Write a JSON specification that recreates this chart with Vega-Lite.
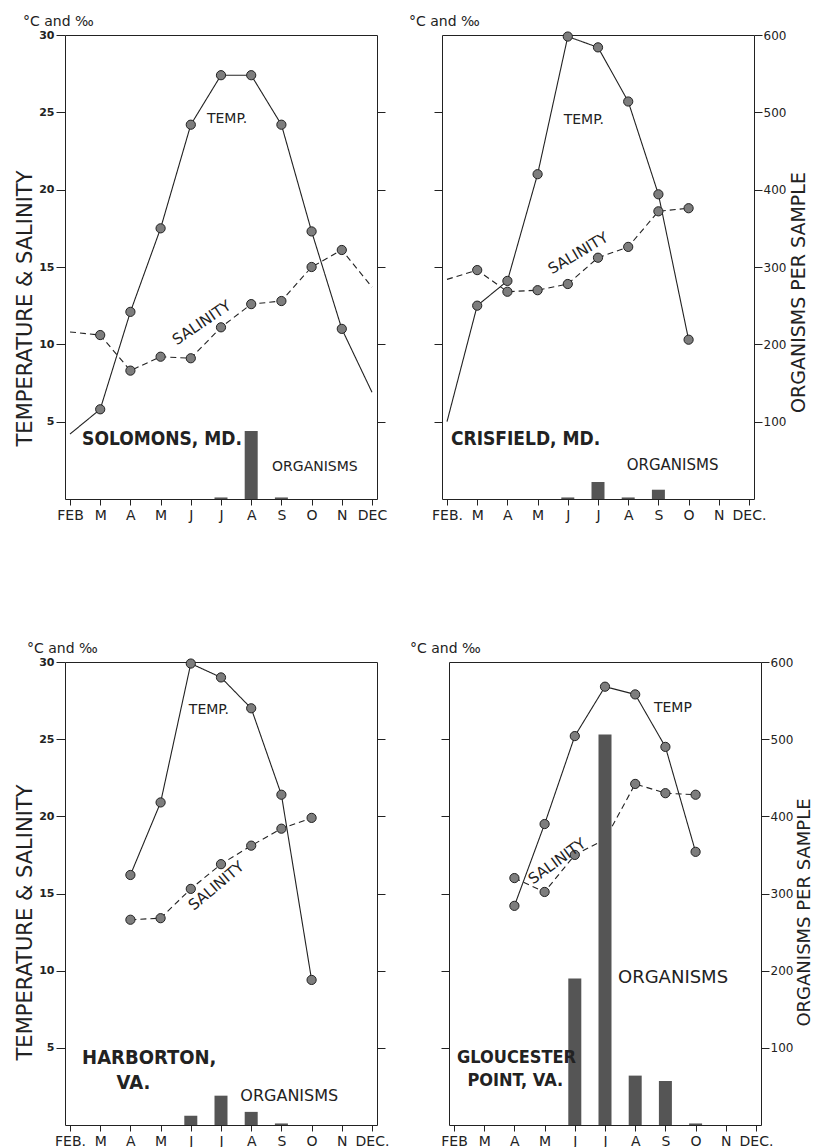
{
  "$schema": "https://vega.github.io/schema/vega-lite/v6.json",
  "background": "white",
  "padding": {"left": 14, "top": 14, "right": 2, "bottom": 3},
  "spacing": 118,
  "config": {
    "view": {"stroke": "#222", "strokeWidth": 1},
    "font": "DejaVu Sans",
    "axis": {"grid": false, "domain": false, "tickColor": "#222", "labelColor": "#222", "titleColor": "#222", "labelFont": "DejaVu Sans", "titleFont": "DejaVu Sans", "titleFontWeight": "normal"},
    "axisX": {"labelOverlap": false, "labelFlush": false, "tickCount": 10, "tickSize": 6, "labelFontSize": 14, "labelPadding": 3},
    "title": {"font": "DejaVu Sans", "fontWeight": "normal", "color": "#222"},
    "text": {"color": "#222", "baseline": "middle"}
  },
  "datasets": {
    "obs": [
      {"station": "Solomons", "series": "Temperature", "month": 2, "value": 4.2},
      {"station": "Solomons", "series": "Temperature", "month": 3, "value": 5.8},
      {"station": "Solomons", "series": "Temperature", "month": 4, "value": 12.1},
      {"station": "Solomons", "series": "Temperature", "month": 5, "value": 17.5},
      {"station": "Solomons", "series": "Temperature", "month": 6, "value": 24.2},
      {"station": "Solomons", "series": "Temperature", "month": 7, "value": 27.4},
      {"station": "Solomons", "series": "Temperature", "month": 8, "value": 27.4},
      {"station": "Solomons", "series": "Temperature", "month": 9, "value": 24.2},
      {"station": "Solomons", "series": "Temperature", "month": 10, "value": 17.3},
      {"station": "Solomons", "series": "Temperature", "month": 11, "value": 11.0},
      {"station": "Solomons", "series": "Temperature", "month": 12, "value": 6.9},
      {"station": "Solomons", "series": "Salinity", "month": 2, "value": 10.8},
      {"station": "Solomons", "series": "Salinity", "month": 3, "value": 10.6},
      {"station": "Solomons", "series": "Salinity", "month": 4, "value": 8.3},
      {"station": "Solomons", "series": "Salinity", "month": 5, "value": 9.2},
      {"station": "Solomons", "series": "Salinity", "month": 6, "value": 9.1},
      {"station": "Solomons", "series": "Salinity", "month": 7, "value": 11.1},
      {"station": "Solomons", "series": "Salinity", "month": 8, "value": 12.6},
      {"station": "Solomons", "series": "Salinity", "month": 9, "value": 12.8},
      {"station": "Solomons", "series": "Salinity", "month": 10, "value": 15.0},
      {"station": "Solomons", "series": "Salinity", "month": 11, "value": 16.1},
      {"station": "Solomons", "series": "Salinity", "month": 12, "value": 13.7},
      {"station": "Crisfield", "series": "Temperature", "month": 2, "value": 5.0},
      {"station": "Crisfield", "series": "Temperature", "month": 3, "value": 12.5},
      {"station": "Crisfield", "series": "Temperature", "month": 4, "value": 14.1},
      {"station": "Crisfield", "series": "Temperature", "month": 5, "value": 21.0},
      {"station": "Crisfield", "series": "Temperature", "month": 6, "value": 29.9},
      {"station": "Crisfield", "series": "Temperature", "month": 7, "value": 29.2},
      {"station": "Crisfield", "series": "Temperature", "month": 8, "value": 25.7},
      {"station": "Crisfield", "series": "Temperature", "month": 9, "value": 19.7},
      {"station": "Crisfield", "series": "Temperature", "month": 10, "value": 10.3},
      {"station": "Crisfield", "series": "Salinity", "month": 2, "value": 14.2},
      {"station": "Crisfield", "series": "Salinity", "month": 3, "value": 14.8},
      {"station": "Crisfield", "series": "Salinity", "month": 4, "value": 13.4},
      {"station": "Crisfield", "series": "Salinity", "month": 5, "value": 13.5},
      {"station": "Crisfield", "series": "Salinity", "month": 6, "value": 13.9},
      {"station": "Crisfield", "series": "Salinity", "month": 7, "value": 15.6},
      {"station": "Crisfield", "series": "Salinity", "month": 8, "value": 16.3},
      {"station": "Crisfield", "series": "Salinity", "month": 9, "value": 18.6},
      {"station": "Crisfield", "series": "Salinity", "month": 10, "value": 18.8},
      {"station": "Harborton", "series": "Temperature", "month": 4, "value": 16.2},
      {"station": "Harborton", "series": "Temperature", "month": 5, "value": 20.9},
      {"station": "Harborton", "series": "Temperature", "month": 6, "value": 29.9},
      {"station": "Harborton", "series": "Temperature", "month": 7, "value": 29.0},
      {"station": "Harborton", "series": "Temperature", "month": 8, "value": 27.0},
      {"station": "Harborton", "series": "Temperature", "month": 9, "value": 21.4},
      {"station": "Harborton", "series": "Temperature", "month": 10, "value": 9.4},
      {"station": "Harborton", "series": "Salinity", "month": 4, "value": 13.3},
      {"station": "Harborton", "series": "Salinity", "month": 5, "value": 13.4},
      {"station": "Harborton", "series": "Salinity", "month": 6, "value": 15.3},
      {"station": "Harborton", "series": "Salinity", "month": 7, "value": 16.9},
      {"station": "Harborton", "series": "Salinity", "month": 8, "value": 18.1},
      {"station": "Harborton", "series": "Salinity", "month": 9, "value": 19.2},
      {"station": "Harborton", "series": "Salinity", "month": 10, "value": 19.9},
      {"station": "Gloucester", "series": "Temperature", "month": 4, "value": 14.2},
      {"station": "Gloucester", "series": "Temperature", "month": 5, "value": 19.5},
      {"station": "Gloucester", "series": "Temperature", "month": 6, "value": 25.2},
      {"station": "Gloucester", "series": "Temperature", "month": 7, "value": 28.4},
      {"station": "Gloucester", "series": "Temperature", "month": 8, "value": 27.9},
      {"station": "Gloucester", "series": "Temperature", "month": 9, "value": 24.5},
      {"station": "Gloucester", "series": "Temperature", "month": 10, "value": 17.7},
      {"station": "Gloucester", "series": "Salinity", "month": 4, "value": 16.0},
      {"station": "Gloucester", "series": "Salinity", "month": 5, "value": 15.1},
      {"station": "Gloucester", "series": "Salinity", "month": 6, "value": 17.5},
      {"station": "Gloucester", "series": "Salinity", "month": 7, "value": 18.5},
      {"station": "Gloucester", "series": "Salinity", "month": 8, "value": 22.1},
      {"station": "Gloucester", "series": "Salinity", "month": 9, "value": 21.5},
      {"station": "Gloucester", "series": "Salinity", "month": 10, "value": 21.4}
    ],
    "org": [
      {"station": "Solomons", "month": 7, "organisms": 2},
      {"station": "Solomons", "month": 8, "organisms": 88},
      {"station": "Solomons", "month": 9, "organisms": 2},
      {"station": "Crisfield", "month": 6, "organisms": 2},
      {"station": "Crisfield", "month": 7, "organisms": 22},
      {"station": "Crisfield", "month": 8, "organisms": 2},
      {"station": "Crisfield", "month": 9, "organisms": 12},
      {"station": "Harborton", "month": 6, "organisms": 12},
      {"station": "Harborton", "month": 7, "organisms": 38},
      {"station": "Harborton", "month": 8, "organisms": 17},
      {"station": "Harborton", "month": 9, "organisms": 2},
      {"station": "Gloucester", "month": 6, "organisms": 190},
      {"station": "Gloucester", "month": 7, "organisms": 506},
      {"station": "Gloucester", "month": 8, "organisms": 64},
      {"station": "Gloucester", "month": 9, "organisms": 57},
      {"station": "Gloucester", "month": 10, "organisms": 2}
    ]
  },
  "vconcat": [
    {
      "bounds": "flush",
      "spacing": 65,
      "hconcat": [
        {
          "width": 312, "height": 464,
          "title": {"text": "°C and ‰", "anchor": "start", "frame": "group", "dx": -42, "offset": 0, "fontSize": 14},
          "layer": [
            {"data": {"name": "obs"}, "transform": [{"filter": "datum.station == 'Solomons'"}],
             "mark": {"type": "line", "stroke": "#222", "strokeWidth": 1.1},
             "encoding": {
               "x": {"field": "month", "type": "quantitative", "title": null, "scale": {"domain": [2, 12], "nice": false, "zero": false},
                 "axis": {"labelExpr": "['FEB','M','A','M','J','J','A','S','O','N','DEC'][datum.value - 2]"}},
               "y": {"field": "value", "type": "quantitative", "scale": {"domain": [0, 30], "nice": false, "zero": true},
                 "axis": {"orient": "left", "values": [5,10,15,20,25,30], "title": "TEMPERATURE & SALINITY", "titleFontSize": 21, "titlePadding": 3, "titleY": 273, "labelFontSize": 11, "labelFontWeight": "bold", "tickSize": 9, "labelPadding": 2}},
               "strokeDash": {"field": "series", "type": "nominal", "scale": {"domain": ["Temperature", "Salinity"], "range": [[1, 0], [6, 4]]}, "legend": null}}},
            {"data": {"name": "obs"}, "transform": [{"filter": "datum.station == 'Solomons' && datum.month > 2 && datum.month < 12"}],
             "mark": {"type": "point", "filled": true, "fill": "#7d7d7d", "stroke": "#222", "strokeWidth": 1, "size": 85, "opacity": 1},
             "encoding": {
               "x": {"field": "month", "type": "quantitative", "title": null, "scale": {"domain": [2, 12], "nice": false, "zero": false},
                 "axis": {"labelExpr": "['FEB','M','A','M','J','J','A','S','O','N','DEC'][datum.value - 2]"}},
               "y": {"field": "value", "type": "quantitative", "scale": {"domain": [0, 30], "nice": false, "zero": true}, "axis": null}}},
            {"data": {"name": "org"}, "transform": [{"filter": "datum.station == 'Solomons'"}],
             "mark": {"type": "bar", "width": 13, "color": "#555"},
             "encoding": {
               "x": {"field": "month", "type": "quantitative", "title": null, "scale": {"domain": [2, 12], "nice": false, "zero": false},
                 "axis": {"labelExpr": "['FEB','M','A','M','J','J','A','S','O','N','DEC'][datum.value - 2]"}},
               "y": {"field": "organisms", "type": "quantitative", "scale": {"domain": [0, 600], "nice": false},
                 "axis": {"orient": "right", "values": [100,200,300,400,500], "labels": false, "title": null, "tickSize": 8}}}},
            {"data": {"values": [{}]}, "mark": {"type": "text", "text": "TEMP.", "fontSize": 14, "align": "center"},
             "encoding": {"x": {"datum": 7.2, "type": "quantitative"}, "y": {"datum": 24.6, "type": "quantitative", "scale": {"domain": [0, 30], "nice": false}, "axis": null}}},
            {"data": {"values": [{}]}, "mark": {"type": "text", "text": "SALINITY", "fontSize": 15, "angle": -34, "align": "center"},
             "encoding": {"x": {"datum": 6.36, "type": "quantitative"}, "y": {"datum": 11.4, "type": "quantitative", "scale": {"domain": [0, 30], "nice": false}, "axis": null}}},
            {"data": {"values": [{}]}, "mark": {"type": "text", "text": "SOLOMONS, MD.", "font": "Liberation Sans Narrow, DejaVu Sans Condensed, DejaVu Sans", "fontWeight": "bold", "fontSize": 19, "align": "left"},
             "encoding": {"x": {"datum": 2.4, "type": "quantitative"}, "y": {"datum": 3.9, "type": "quantitative", "scale": {"domain": [0, 30], "nice": false}, "axis": null}}},
            {"data": {"values": [{}]}, "mark": {"type": "text", "text": "ORGANISMS", "fontSize": 14, "align": "left"},
             "encoding": {"x": {"datum": 8.69, "type": "quantitative"}, "y": {"datum": 2.1, "type": "quantitative", "scale": {"domain": [0, 30], "nice": false}, "axis": null}}}
          ],
          "resolve": {"scale": {"y": "independent"}, "axis": {"y": "independent"}}
        },
        {
          "width": 312, "height": 464,
          "title": {"text": "°C and ‰", "anchor": "start", "frame": "group", "dx": -33, "offset": 0, "fontSize": 14},
          "layer": [
            {"data": {"name": "obs"}, "transform": [{"filter": "datum.station == 'Crisfield'"}],
             "mark": {"type": "line", "stroke": "#222", "strokeWidth": 1.1},
             "encoding": {
               "x": {"field": "month", "type": "quantitative", "title": null, "scale": {"domain": [2, 12], "nice": false, "zero": false},
                 "axis": {"labelExpr": "['FEB.','M','A','M','J','J','A','S','O','N','DEC.'][datum.value - 2]"}},
               "y": {"field": "value", "type": "quantitative", "scale": {"domain": [0, 30], "nice": false, "zero": true},
                 "axis": {"orient": "left", "values": [5,10,15,20,25], "labels": false, "title": null, "tickSize": 8}},
               "strokeDash": {"field": "series", "type": "nominal", "scale": {"domain": ["Temperature", "Salinity"], "range": [[1, 0], [6, 4]]}, "legend": null}}},
            {"data": {"name": "obs"}, "transform": [{"filter": "datum.station == 'Crisfield' && datum.month > 2 && datum.month < 12"}],
             "mark": {"type": "point", "filled": true, "fill": "#7d7d7d", "stroke": "#222", "strokeWidth": 1, "size": 85, "opacity": 1},
             "encoding": {
               "x": {"field": "month", "type": "quantitative", "title": null, "scale": {"domain": [2, 12], "nice": false, "zero": false},
                 "axis": {"labelExpr": "['FEB.','M','A','M','J','J','A','S','O','N','DEC.'][datum.value - 2]"}},
               "y": {"field": "value", "type": "quantitative", "scale": {"domain": [0, 30], "nice": false, "zero": true}, "axis": null}}},
            {"data": {"name": "org"}, "transform": [{"filter": "datum.station == 'Crisfield'"}],
             "mark": {"type": "bar", "width": 13, "color": "#555"},
             "encoding": {
               "x": {"field": "month", "type": "quantitative", "title": null, "scale": {"domain": [2, 12], "nice": false, "zero": false},
                 "axis": {"labelExpr": "['FEB.','M','A','M','J','J','A','S','O','N','DEC.'][datum.value - 2]"}},
               "y": {"field": "organisms", "type": "quantitative", "scale": {"domain": [0, 600], "nice": false},
                 "axis": {"orient": "right", "values": [100,200,300,400,500,600], "title": "ORGANISMS PER SAMPLE", "titleAngle": 270, "titleBaseline": "top", "titleFontSize": 19, "titlePadding": 4, "titleY": 257, "labelFontSize": 12, "tickSize": 8, "labelPadding": 1}}}},
            {"data": {"values": [{}]}, "mark": {"type": "text", "text": "TEMP.", "fontSize": 14, "align": "center"},
             "encoding": {"x": {"datum": 6.53, "type": "quantitative"}, "y": {"datum": 24.5, "type": "quantitative", "scale": {"domain": [0, 30], "nice": false}, "axis": null}}},
            {"data": {"values": [{}]}, "mark": {"type": "text", "text": "SALINITY", "fontSize": 15, "angle": -31, "align": "center"},
             "encoding": {"x": {"datum": 6.34, "type": "quantitative"}, "y": {"datum": 15.9, "type": "quantitative", "scale": {"domain": [0, 30], "nice": false}, "axis": null}}},
            {"data": {"values": [{}]}, "mark": {"type": "text", "text": "CRISFIELD, MD.", "font": "Liberation Sans Narrow, DejaVu Sans Condensed, DejaVu Sans", "fontWeight": "bold", "fontSize": 19, "align": "left"},
             "encoding": {"x": {"datum": 2.13, "type": "quantitative"}, "y": {"datum": 3.9, "type": "quantitative", "scale": {"domain": [0, 30], "nice": false}, "axis": null}}},
            {"data": {"values": [{}]}, "mark": {"type": "text", "text": "ORGANISMS", "fontSize": 15, "align": "left"},
             "encoding": {"x": {"datum": 7.95, "type": "quantitative"}, "y": {"datum": 2.2, "type": "quantitative", "scale": {"domain": [0, 30], "nice": false}, "axis": null}}}
          ],
          "resolve": {"scale": {"y": "independent"}, "axis": {"y": "independent"}}
        }
      ]
    },
    {
      "bounds": "flush",
      "spacing": 72,
      "hconcat": [
        {
          "width": 312, "height": 463,
          "title": {"text": "°C and ‰", "anchor": "start", "frame": "group", "dx": -38, "offset": 0, "fontSize": 14},
          "layer": [
            {"data": {"name": "obs"}, "transform": [{"filter": "datum.station == 'Harborton'"}],
             "mark": {"type": "line", "stroke": "#222", "strokeWidth": 1.1},
             "encoding": {
               "x": {"field": "month", "type": "quantitative", "title": null, "scale": {"domain": [2, 12], "nice": false, "zero": false},
                 "axis": {"labelExpr": "['FEB.','M','A','M','J','J','A','S','O','N','DEC.'][datum.value - 2]"}},
               "y": {"field": "value", "type": "quantitative", "scale": {"domain": [0, 30], "nice": false, "zero": true},
                 "axis": {"orient": "left", "values": [5,10,15,20,25,30], "title": "TEMPERATURE & SALINITY", "titleFontSize": 21, "titlePadding": 3, "titleY": 260, "labelFontSize": 11, "labelFontWeight": "bold", "tickSize": 9, "labelPadding": 2}},
               "strokeDash": {"field": "series", "type": "nominal", "scale": {"domain": ["Temperature", "Salinity"], "range": [[1, 0], [6, 4]]}, "legend": null}}},
            {"data": {"name": "obs"}, "transform": [{"filter": "datum.station == 'Harborton'"}],
             "mark": {"type": "point", "filled": true, "fill": "#7d7d7d", "stroke": "#222", "strokeWidth": 1, "size": 85, "opacity": 1},
             "encoding": {
               "x": {"field": "month", "type": "quantitative", "title": null, "scale": {"domain": [2, 12], "nice": false, "zero": false},
                 "axis": {"labelExpr": "['FEB.','M','A','M','J','J','A','S','O','N','DEC.'][datum.value - 2]"}},
               "y": {"field": "value", "type": "quantitative", "scale": {"domain": [0, 30], "nice": false, "zero": true}, "axis": null}}},
            {"data": {"name": "org"}, "transform": [{"filter": "datum.station == 'Harborton'"}],
             "mark": {"type": "bar", "width": 13, "color": "#555"},
             "encoding": {
               "x": {"field": "month", "type": "quantitative", "title": null, "scale": {"domain": [2, 12], "nice": false, "zero": false},
                 "axis": {"labelExpr": "['FEB.','M','A','M','J','J','A','S','O','N','DEC.'][datum.value - 2]"}},
               "y": {"field": "organisms", "type": "quantitative", "scale": {"domain": [0, 600], "nice": false},
                 "axis": {"orient": "right", "values": [100,200,300,400,500], "labels": false, "title": null, "tickSize": 8}}}},
            {"data": {"values": [{}]}, "mark": {"type": "text", "text": "TEMP.", "fontSize": 14, "align": "center"},
             "encoding": {"x": {"datum": 6.6, "type": "quantitative"}, "y": {"datum": 26.9, "type": "quantitative", "scale": {"domain": [0, 30], "nice": false}, "axis": null}}},
            {"data": {"values": [{}]}, "mark": {"type": "text", "text": "SALINITY", "fontSize": 15, "angle": -40, "align": "center"},
             "encoding": {"x": {"datum": 6.84, "type": "quantitative"}, "y": {"datum": 15.5, "type": "quantitative", "scale": {"domain": [0, 30], "nice": false}, "axis": null}}},
            {"data": {"values": [{}]}, "mark": {"type": "text", "text": "HARBORTON,", "font": "Liberation Sans Narrow, DejaVu Sans Condensed, DejaVu Sans", "fontWeight": "bold", "fontSize": 20, "align": "left"},
             "encoding": {"x": {"datum": 2.4, "type": "quantitative"}, "y": {"datum": 4.35, "type": "quantitative", "scale": {"domain": [0, 30], "nice": false}, "axis": null}}},
            {"data": {"values": [{}]}, "mark": {"type": "text", "text": "VA.", "font": "Liberation Sans Narrow, DejaVu Sans Condensed, DejaVu Sans", "fontWeight": "bold", "fontSize": 20, "align": "center"},
             "encoding": {"x": {"datum": 4.1, "type": "quantitative"}, "y": {"datum": 2.7, "type": "quantitative", "scale": {"domain": [0, 30], "nice": false}, "axis": null}}},
            {"data": {"values": [{}]}, "mark": {"type": "text", "text": "ORGANISMS", "fontSize": 16, "align": "left"},
             "encoding": {"x": {"datum": 7.64, "type": "quantitative"}, "y": {"datum": 1.9, "type": "quantitative", "scale": {"domain": [0, 30], "nice": false}, "axis": null}}}
          ],
          "resolve": {"scale": {"y": "independent"}, "axis": {"y": "independent"}}
        },
        {
          "width": 312, "height": 463,
          "title": {"text": "°C and ‰", "anchor": "start", "frame": "group", "dx": -39, "offset": 0, "fontSize": 14},
          "layer": [
            {"data": {"name": "obs"}, "transform": [{"filter": "datum.station == 'Gloucester'"}],
             "mark": {"type": "line", "stroke": "#222", "strokeWidth": 1.1},
             "encoding": {
               "x": {"field": "month", "type": "quantitative", "title": null, "scale": {"domain": [2, 12], "nice": false, "zero": false},
                 "axis": {"labelExpr": "['FEB','M','A','M','J','J','A','S','O','N','DEC.'][datum.value - 2]"}},
               "y": {"field": "value", "type": "quantitative", "scale": {"domain": [0, 30], "nice": false, "zero": true},
                 "axis": {"orient": "left", "values": [5,10,15,20,25], "labels": false, "title": null, "tickSize": 8}},
               "strokeDash": {"field": "series", "type": "nominal", "scale": {"domain": ["Temperature", "Salinity"], "range": [[1, 0], [6, 4]]}, "legend": null}}},
            {"data": {"name": "obs"}, "transform": [{"filter": "datum.station == 'Gloucester'"}],
             "mark": {"type": "point", "filled": true, "fill": "#7d7d7d", "stroke": "#222", "strokeWidth": 1, "size": 85, "opacity": 1},
             "encoding": {
               "x": {"field": "month", "type": "quantitative", "title": null, "scale": {"domain": [2, 12], "nice": false, "zero": false},
                 "axis": {"labelExpr": "['FEB','M','A','M','J','J','A','S','O','N','DEC.'][datum.value - 2]"}},
               "y": {"field": "value", "type": "quantitative", "scale": {"domain": [0, 30], "nice": false, "zero": true}, "axis": null}}},
            {"data": {"name": "org"}, "transform": [{"filter": "datum.station == 'Gloucester'"}],
             "mark": {"type": "bar", "width": 13, "color": "#555"},
             "encoding": {
               "x": {"field": "month", "type": "quantitative", "title": null, "scale": {"domain": [2, 12], "nice": false, "zero": false},
                 "axis": {"labelExpr": "['FEB','M','A','M','J','J','A','S','O','N','DEC.'][datum.value - 2]"}},
               "y": {"field": "organisms", "type": "quantitative", "scale": {"domain": [0, 600], "nice": false},
                 "axis": {"orient": "right", "values": [100,200,300,400,500,600], "title": "ORGANISMS PER SAMPLE", "titleAngle": 270, "titleBaseline": "top", "titleFontSize": 18, "titlePadding": 3, "titleY": 250, "labelFontSize": 12, "tickSize": 8, "labelPadding": 1}}}},
            {"data": {"values": [{}]}, "mark": {"type": "text", "text": "TEMP", "fontSize": 14, "align": "left"},
             "encoding": {"x": {"datum": 8.62, "type": "quantitative"}, "y": {"datum": 27.0, "type": "quantitative", "scale": {"domain": [0, 30], "nice": false}, "axis": null}}},
            {"data": {"values": [{}]}, "mark": {"type": "text", "text": "SALINITY", "fontSize": 15, "angle": -36, "align": "center"},
             "encoding": {"x": {"datum": 5.41, "type": "quantitative"}, "y": {"datum": 17.1, "type": "quantitative", "scale": {"domain": [0, 30], "nice": false}, "axis": null}}},
            {"data": {"values": [{}]}, "mark": {"type": "text", "text": "GLOUCESTER", "font": "Liberation Sans Narrow, DejaVu Sans Condensed, DejaVu Sans", "fontWeight": "bold", "fontSize": 18, "align": "left"},
             "encoding": {"x": {"datum": 2.1, "type": "quantitative"}, "y": {"datum": 4.35, "type": "quantitative", "scale": {"domain": [0, 30], "nice": false}, "axis": null}}},
            {"data": {"values": [{}]}, "mark": {"type": "text", "text": "POINT, VA.", "font": "Liberation Sans Narrow, DejaVu Sans Condensed, DejaVu Sans", "fontWeight": "bold", "fontSize": 18, "align": "center"},
             "encoding": {"x": {"datum": 4.03, "type": "quantitative"}, "y": {"datum": 2.85, "type": "quantitative", "scale": {"domain": [0, 30], "nice": false}, "axis": null}}},
            {"data": {"values": [{}]}, "mark": {"type": "text", "text": "ORGANISMS", "fontSize": 18, "align": "left"},
             "encoding": {"x": {"datum": 7.43, "type": "quantitative"}, "y": {"datum": 9.5, "type": "quantitative", "scale": {"domain": [0, 30], "nice": false}, "axis": null}}}
          ],
          "resolve": {"scale": {"y": "independent"}, "axis": {"y": "independent"}}
        }
      ]
    }
  ]
}
